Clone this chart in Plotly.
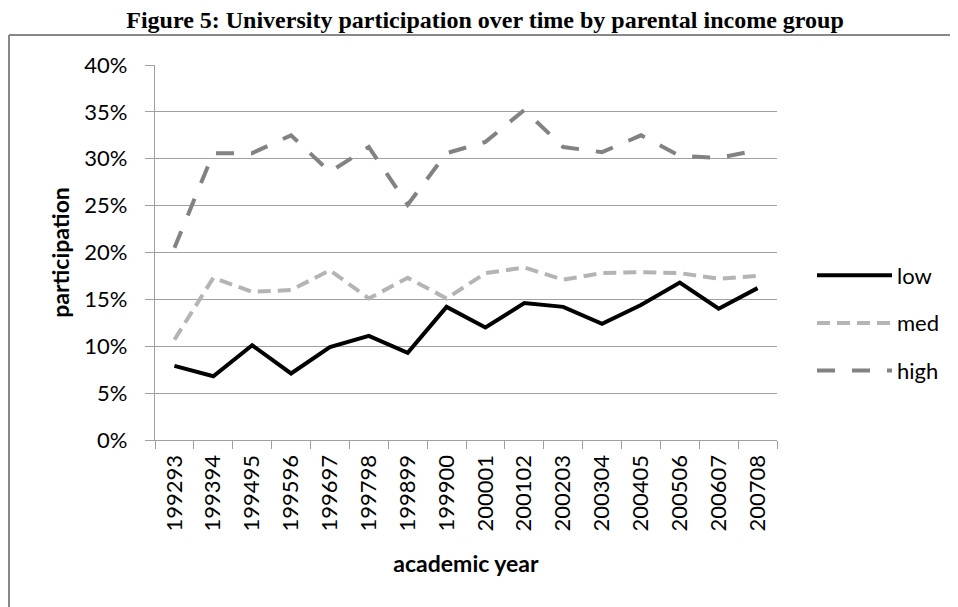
import plotly.graph_objects as go

years = ["199293", "199394", "199495", "199596", "199697", "199798", "199899", "199900",
         "200001", "200102", "200203", "200304", "200405", "200506", "200607", "200708"]
low = [7.9, 6.8, 10.1, 7.1, 9.9, 11.1, 9.3, 14.2, 12.0, 14.6, 14.2, 12.4, 14.4, 16.8, 14.0, 16.2]
med = [10.7, 17.3, 15.8, 16.0, 18.1, 15.1, 17.3, 15.1, 17.8, 18.4, 17.1, 17.8, 17.9, 17.8, 17.2, 17.5]
high = [20.5, 30.6, 30.6, 32.5, 28.6, 31.25, 25.1, 30.6, 31.8, 35.2, 31.25, 30.7, 32.5, 30.3, 30.1, 30.9]
y_ticks = [0, 5, 10, 15, 20, 25, 30, 35, 40]
y_labels = [f"{v}%" for v in y_ticks]

# page body has an 8px margin, so the figure is laid out 8px smaller
W, H = 950, 599
L, T = 147, 57
pw, ph = 622, 375
R, B = W - L - pw, H - T - ph

font_sans = "Lato, Carlito, Calibri, 'DejaVu Sans', sans-serif"

fig = go.Figure()
fig.add_trace(go.Scatter(x=years, y=low, name="low", mode="lines", legendgroup="a",
                         line=dict(color="#000000", width=4)))
fig.add_trace(go.Scatter(x=years, y=med, name="med", mode="lines", legendgroup="b",
                         line=dict(color="#b4b4b4", width=4, dash="13px,7px")))
fig.add_trace(go.Scatter(x=years, y=high, name="high", mode="lines", legendgroup="c",
                         line=dict(color="#828282", width=4, dash="18px,17px")))

def px_x(px):
    return (px - L) / pw

def px_y(py):
    return (H - B - py) / ph

shapes = [
    dict(type="line", xref="paper", yref="paper", x0=px_x(1), x1=px_x(1), y0=px_y(27), y1=px_y(620),
         line=dict(color="#888888", width=2)),
    dict(type="line", xref="paper", yref="paper", x0=px_x(1), x1=px_x(970), y0=px_y(27), y1=px_y(27),
         line=dict(color="#888888", width=2)),
]

fig.update_layout(
    width=W, height=H,
    margin=dict(l=L, r=R, t=T, b=B, autoexpand=False),
    paper_bgcolor="white", plot_bgcolor="white",
    title=dict(text="<b>Figure 5: University participation over time by parental income group</b>",
               x=477 / W, xanchor="center", xref="container",
               y=1 - 12 / H, yanchor="middle", yref="container",
               font=dict(family="'Liberation Serif', 'Times New Roman', serif", size=24, color="#000")),
    shapes=shapes,
    showlegend=True,
    legend=dict(x=px_x(804), xanchor="left", y=px_y(315), yanchor="middle",
                font=dict(family=font_sans, size=22, color="#000"),
                tracegroupgap=16, itemwidth=75, traceorder="grouped",
                bgcolor="rgba(0,0,0,0)"),
    xaxis=dict(type="category", range=[-0.5, 15.5], showgrid=False,
               showline=True, linecolor="#a0a0a0", linewidth=1.3,
               ticks="outside", ticklen=8, tickcolor="#a0a0a0", tickwidth=1.3,
               tickson="boundaries", tickangle=-90, ticklabelstandoff=5,
               tickfont=dict(family=font_sans, size=22, color="#000"),
               title=dict(text="<b>academic year</b>", standoff=25,
                          font=dict(family=font_sans, size=23, color="#000")),
               zeroline=False, fixedrange=True),
    yaxis=dict(range=[0, 40], tickvals=y_ticks, ticktext=y_labels,
               showgrid=True, gridcolor="#a0a0a0", gridwidth=1.3,
               showline=True, linecolor="#a0a0a0", linewidth=1.3,
               ticks="outside", ticklen=9, tickcolor="#a0a0a0", tickwidth=1.3,
               ticklabelstandoff=13,
               tickfont=dict(family=font_sans, size=22, color="#000"),
               title=dict(text="<b>participation</b>", standoff=8,
                          font=dict(family=font_sans, size=23, color="#000")),
               zeroline=False, fixedrange=True),
)

fig.write_html("out.html")
